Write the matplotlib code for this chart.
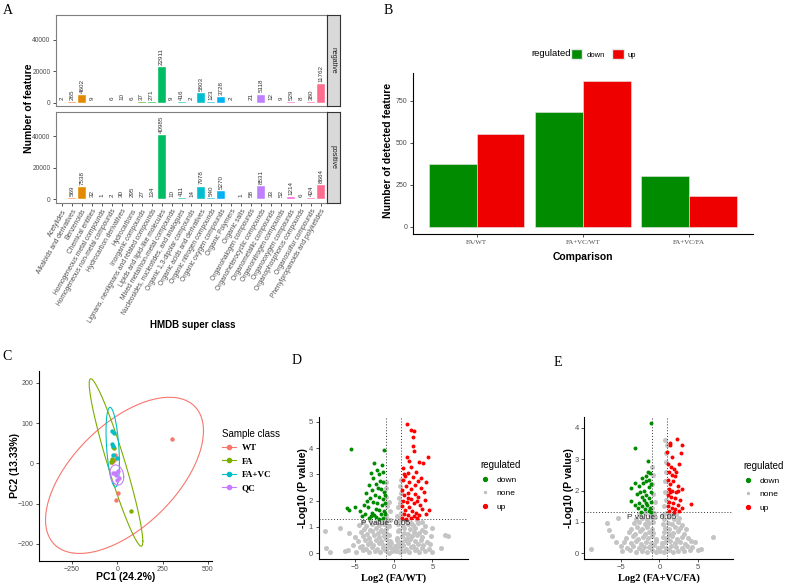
import numpy as np
import matplotlib
matplotlib.use("Agg")
import matplotlib.pyplot as plt
from matplotlib.lines import Line2D
from matplotlib.patches import Patch

SANS = "Liberation Sans"
SERIF = "Liberation Serif"
plt.rcParams["font.family"] = SANS

# ---------------- data ----------------
# A: HMDB super class counts
hmdb_classes = [
    "Acetylides", "Alkaloids and derivatives", "Benzenoids", "Chemical entities",
    "Homogeneous metal compounds", "Homogeneous non-metal compounds",
    "Hydrocarbon derivatives", "Hydrocarbons", "Inorganic compounds",
    "Lignans, neolignans and related compounds", "Lipids and lipid-like molecules",
    "Mixed metal/non-metal compounds", "Nucleosides, nucleotides, and analogues",
    "Organic 1,3-dipolar compounds", "Organic acids and derivatives",
    "Organic nitrogen compounds", "Organic oxygen compounds", "Organic Polymers",
    "Organic salts", "Organohalogen compounds", "Organoheterocyclic compounds",
    "Organometallic compounds", "Organonitrogen compounds", "Organooxygen compounds",
    "Organophosphorus compounds", "Organosulfur compounds",
    "Phenylpropanoids and polyketides",
]
nan = np.nan
negative_counts = [2, 265, 4602, 9, nan, 6, 10, 6, 37, 271, 22911, 9, 416, 2, 5803,
                   123, 3728, 2, nan, 21, 5118, 12, 9, 529, 8, 380, 11762]
positive_counts = [nan, 569, 7538, 32, 1, 2, 30, 295, 27, 134, 40985, 10, 411, 14, 7978,
                   540, 5270, nan, 1, 58, 8531, 33, 52, 1214, 6, 424, 8664]

# B: detected features per comparison
comparisons = ["FA/WT", "FA+VC/WT", "FA+VC/FA"]
down_counts = [372, 683, 303]
up_counts = [552, 867, 186]

# C: PCA scores
pca_groups = ["WT", "FA", "FA+VC", "QC"]
pca_x = {
    "WT": [300, 2, -7, -10, -28, -20],
    "FA": [75, -17, -31, -28, -22, -33],
    "FA+VC": [-31, -17, -28, -26, -22, -4],
    "QC": [-22, -7, 6, -4, 9, -13],
}
pca_y = {
    "WT": [61, -73, -90, 20, 2, 8],
    "FA": [-118, 37, 10, 6, 41, 4],
    "FA+VC": [79, 76, 47, 43, 21, 14],
    "QC": [-25, -29, -18, -41, -37, -23],
}
# 95% ellipses: centre, half x-extent, half y-extent, correlation
ell_cx = {"WT": 40, "FA": -7, "FA+VC": -25, "QC": -2}
ell_cy = {"WT": -30, "FA": 2, "FA+VC": 40, "QC": -29}
ell_hx = {"WT": 436, "FA": 148, "FA+VC": 37, "QC": 38}
ell_hy = {"WT": 194, "FA": 208, "FA+VC": 99, "QC": 25}
ell_r = {"WT": 0.57, "FA": -0.94, "FA+VC": -0.4, "QC": -0.2}

# D: volcano FA/WT
d_down = [(-5.5, 3.96), (-1.24, 3.92), (-2.48, 3.42), (-1.54, 3.35), (-2.18, 3.16), (-2.9, 3.05),
          (-1.9, 3.0), (-1.3, 3.1), (-2.6, 2.85), (-1.7, 2.75), (-3.1, 2.6), (-2.2, 2.65),
          (-1.4, 2.7), (-2.0, 2.5), (-2.8, 2.4), (-1.6, 2.45), (-3.5, 2.3), (-1.2, 2.35),
          (-2.4, 2.2), (-1.8, 2.15), (-3.0, 2.1), (-1.3, 2.05), (-2.6, 1.95), (-2.1, 1.9),
          (-3.8, 1.85), (-1.5, 1.85), (-3.3, 1.75), (-2.3, 1.7), (-1.9, 1.65), (-1.2, 1.6),
          (-4.96, 1.77), (-5.94, 1.71), (-5.68, 1.65), (-4.3, 1.6), (-2.7, 1.55), (-3.6, 1.5),
          (-1.6, 1.5), (-2.9, 1.42), (-2.2, 1.38), (-1.4, 1.35), (-3.2, 1.35), (-1.8, 1.32),
          (-2.5, 1.45), (-1.1, 1.5), (-1.1, 1.9), (-1.1, 2.2), (-4.0, 1.4), (-3.4, 2.0)]
d_up = [(1.67, 4.94), (2.31, 4.68), (2.65, 4.66), (2.44, 4.43), (2.52, 4.08), (1.67, 3.67),
        (4.44, 3.67), (3.29, 3.48), (3.8, 3.42), (4.23, 2.72), (3.59, 2.85), (4.53, 1.65),
        (4.0, 2.03), (1.88, 3.04), (1.24, 3.23), (2.2, 3.3), (2.9, 3.1), (1.5, 2.95),
        (2.5, 2.9), (3.2, 2.75), (1.2, 2.8), (2.0, 2.7), (2.8, 2.6), (1.6, 2.55), (3.5, 2.5),
        (2.3, 2.45), (1.1, 2.4), (3.9, 2.35), (1.9, 2.3), (2.7, 2.25), (1.4, 2.2), (3.1, 2.15),
        (2.2, 2.05), (1.2, 2.0), (1.7, 1.95), (2.6, 1.9), (3.4, 1.85), (1.1, 1.8), (2.0, 1.75),
        (3.7, 1.7), (1.5, 1.65), (2.4, 1.6), (2.9, 1.55), (1.3, 1.5), (1.9, 1.45), (3.3, 1.45),
        (2.6, 1.4), (1.1, 1.35), (1.6, 1.32), (2.2, 1.33), (3.0, 1.35), (4.2, 1.5), (1.3, 3.0),
        (2.0, 3.5), (2.6, 3.9), (3.0, 2.0), (1.8, 2.1)]
d_none = [(-6.2, 0.08), (-4.8, 0.04), (-3.9, 0.11), (-3.1, 0.03), (-2.4, 0.09), (-1.7, 0.05),
          (-1.1, 0.12), (-0.6, 0.02), (-0.2, 0.07), (0.3, 0.1), (0.8, 0.03), (1.4, 0.08),
          (2.0, 0.05), (2.7, 0.11), (3.3, 0.04), (4.1, 0.09), (5.0, 0.06),
          (-8.6, 0.19), (-8.1, 0.06), (-5.8, 0.13), (-4.3, 0.22), (-3.5, 0.17), (-2.8, 0.24),
          (-2.1, 0.16), (-1.4, 0.21), (-0.9, 0.18), (-0.4, 0.23), (0.1, 0.15), (0.5, 0.2),
          (1.0, 0.24), (1.6, 0.17), (2.3, 0.22), (2.9, 0.15), (3.6, 0.21), (4.5, 0.18), (6.15, 0.19),
          (-5.2, 0.33), (-4.0, 0.29), (-3.3, 0.37), (-2.6, 0.31), (-1.9, 0.38), (-1.3, 0.3),
          (-0.7, 0.35), (-0.3, 0.39), (0.2, 0.28), (0.6, 0.36), (1.2, 0.32), (1.8, 0.39),
          (2.5, 0.29), (3.1, 0.35), (3.8, 0.31), (4.7, 0.37),
          (-4.6, 0.47), (-3.7, 0.52), (-3.0, 0.44), (-2.3, 0.5), (-1.6, 0.46), (-1.0, 0.53),
          (-0.5, 0.45), (0.4, 0.51), (0.9, 0.43), (1.5, 0.49), (2.1, 0.54), (2.8, 0.46),
          (3.5, 0.52), (4.3, 0.44),
          (-5.0, 0.62), (-3.9, 0.66), (-3.2, 0.59), (-2.5, 0.68), (-1.8, 0.61), (-1.2, 0.65),
          (-0.6, 0.7), (0.5, 0.6), (1.1, 0.67), (1.7, 0.58), (2.4, 0.64), (3.0, 0.69),
          (3.7, 0.61), (4.8, 0.66),
          (-5.7, 0.76), (-4.2, 0.8), (-3.4, 0.74), (-2.7, 0.83), (-2.0, 0.77), (-1.4, 0.81),
          (-0.8, 0.75), (0.6, 0.84), (1.3, 0.78), (1.9, 0.73), (2.6, 0.82), (3.3, 0.76),
          (4.0, 0.8), (6.6, 0.7), (7.0, 0.66),
          (-8.8, 0.86), (-6.9, 0.97), (-3.8, 0.92), (-3.0, 0.88), (-2.3, 0.96), (-1.6, 0.9),
          (-0.9, 0.94), (0.7, 0.89), (1.4, 0.98), (2.1, 0.91), (2.8, 0.95), (3.6, 0.87), (4.9, 0.97),
          (-4.4, 1.08), (-3.5, 1.03), (-2.7, 1.12), (-1.9, 1.06), (-1.2, 1.1), (-0.6, 1.04),
          (0.6, 1.13), (1.2, 1.05), (1.8, 1.11), (2.5, 1.07), (3.2, 1.14), (4.0, 1.02),
          (-3.9, 1.2), (-3.0, 1.26), (-2.2, 1.18), (-1.5, 1.24), (-0.9, 1.21), (-0.4, 1.27),
          (0.4, 1.19), (0.9, 1.25), (1.6, 1.22), (2.3, 1.17), (3.0, 1.28), (3.7, 1.2),
          (-0.9, 1.45), (-0.5, 1.6), (0.5, 1.4), (0.9, 1.55), (-0.8, 1.8), (-0.6, 1.95),
          (0.6, 1.75), (0.8, 1.9), (-0.9, 2.15), (0.7, 2.1), (0.9, 2.3), (-0.9, 2.5),
          (0.8, 2.55), (0.9, 2.8), (-0.95, 2.7), (0.85, 1.35), (-0.85, 1.3)]

# E: volcano FA+VC/FA
e_down = [(-1.13, 4.14), (-3.17, 3.34), (-1.43, 2.94), (-3.17, 2.25), (-3.7, 2.07), (-3.7, 1.68),
          (-1.2, 2.55), (-1.5, 2.6), (-2.2, 2.4), (-1.8, 2.3), (-1.1, 2.2), (-2.6, 2.15),
          (-1.4, 2.1), (-2.0, 2.0), (-1.1, 1.95), (-2.9, 1.9), (-1.7, 1.85), (-2.3, 1.8),
          (-1.3, 1.75), (-2.0, 1.7), (-1.1, 1.65), (-2.6, 1.6), (-1.6, 1.55), (-2.2, 1.5),
          (-1.2, 1.45), (-1.9, 1.4), (-2.8, 1.45), (-1.4, 1.35), (-2.4, 1.33), (-1.1, 1.32),
          (-1.7, 2.45), (-1.3, 2.35), (-2.5, 1.95), (-1.8, 1.6), (-3.2, 1.55), (-2.1, 2.25)]
e_up = [(2.35, 3.63), (1.39, 3.52), (1.39, 3.45), (2.91, 3.45), (1.0, 3.23), (2.83, 3.21),
        (1.6, 3.08), (1.17, 2.84), (2.52, 2.84), (1.96, 2.7), (2.91, 2.05), (4.13, 1.56),
        (1.3, 2.6), (1.6, 2.5), (2.1, 2.45), (1.1, 2.35), (1.8, 2.3), (1.4, 2.2), (2.4, 2.15),
        (1.2, 2.05), (1.7, 2.0), (2.2, 1.95), (1.1, 1.85), (1.5, 1.8), (2.0, 1.75), (2.7, 1.7),
        (1.3, 1.65), (1.8, 1.6), (2.4, 1.55), (1.1, 1.5), (1.6, 1.45), (2.1, 1.4), (2.9, 1.45),
        (1.3, 1.35), (1.9, 1.32), (2.6, 1.35), (1.5, 2.75), (2.2, 2.6), (1.4, 1.95), (2.5, 2.0)]
e_none = [(-8.96, 0.13), (-6.87, 0.95), (-6.6, 0.75), (-6.2, 0.55), (-5.35, 1.11), (-5.6, 0.35),
          (6.96, 0.53), (5.09, 0.11), (5.5, 0.13), (4.6, 0.35),
          (-4.9, 0.06), (-3.8, 0.1), (-3.0, 0.04), (-2.3, 0.09), (-1.6, 0.05), (-1.0, 0.11),
          (-0.5, 0.03), (0.1, 0.08), (0.6, 0.05), (1.2, 0.1), (1.8, 0.04), (2.5, 0.09),
          (3.2, 0.06), (4.0, 0.11),
          (-5.0, 0.22), (-4.2, 0.18), (-3.4, 0.24), (-2.7, 0.17), (-2.0, 0.21), (-1.3, 0.19),
          (-0.7, 0.25), (-0.2, 0.16), (0.4, 0.23), (0.9, 0.18), (1.5, 0.24), (2.2, 0.2),
          (2.9, 0.16), (3.6, 0.22), (4.3, 0.19),
          (-4.6, 0.36), (-3.7, 0.33), (-3.0, 0.39), (-2.4, 0.31), (-1.7, 0.37), (-1.1, 0.34),
          (-0.5, 0.38), (0.3, 0.32), (0.8, 0.36), (1.4, 0.4), (2.0, 0.33), (2.7, 0.37),
          (3.4, 0.31), (4.1, 0.38),
          (-4.3, 0.5), (-3.5, 0.54), (-2.8, 0.47), (-2.1, 0.52), (-1.5, 0.48), (-0.9, 0.55),
          (-0.4, 0.46), (0.5, 0.53), (1.0, 0.49), (1.6, 0.56), (2.3, 0.47), (3.0, 0.52), (3.8, 0.5),
          (-4.0, 0.68), (-3.2, 0.63), (-2.5, 0.7), (-1.9, 0.62), (-1.3, 0.67), (-0.8, 0.64),
          (0.6, 0.69), (1.2, 0.61), (1.8, 0.66), (2.5, 0.7), (3.2, 0.63),
          (-3.7, 0.78), (-2.9, 0.83), (-2.2, 0.77), (-1.6, 0.84), (-1.0, 0.79), (0.7, 0.82),
          (1.3, 0.76), (2.0, 0.85), (2.7, 0.8), (3.5, 0.77),
          (-3.3, 0.95), (-2.6, 0.99), (-1.9, 0.92), (-1.3, 0.97), (-0.8, 1.0), (0.5, 0.93),
          (1.1, 0.98), (1.7, 0.94), (2.4, 1.0), (3.0, 0.91),
          (-3.0, 1.1), (-2.3, 1.14), (-1.6, 1.07), (-1.0, 1.12), (-0.6, 1.16), (0.6, 1.09),
          (1.2, 1.15), (1.9, 1.08), (2.6, 1.13),
          (-2.7, 1.24), (-1.9, 1.28), (-1.2, 1.21), (-0.7, 1.27), (0.5, 1.22), (0.9, 1.29),
          (1.5, 1.23), (2.2, 1.26),
          (-0.9, 1.45), (-0.6, 1.65), (0.6, 1.5), (0.9, 1.7), (-0.8, 1.9), (0.7, 1.95),
          (-0.9, 2.2), (0.8, 2.3), (-0.85, 2.5), (0.9, 2.6), (-0.9, 2.75), (0.85, 2.9),
          (0.9, 3.2), (0.8, 3.6), (0.95, 3.45)]

# ---------------- helpers ----------------
W, H = 786, 584
fig = plt.figure(figsize=(W / 100, H / 100), dpi=100)


def box(l, t, r, b):
    return fig.add_axes([l / W, 1 - b / H, (r - l) / W, (b - t) / H])


def ftext(x, y, s, **kw):
    return fig.text(x / W, 1 - y / H, s, **kw)


def hue_colors(n, l=65, c=100):
    # ggplot2 default hue palette (HCL -> sRGB)
    Xn, Yn, Zn = 95.047, 100.0, 108.883
    un = 4 * Xn / (Xn + 15 * Yn + 3 * Zn)
    vn = 9 * Yn / (Xn + 15 * Yn + 3 * Zn)
    M = np.array([[3.2406, -1.5372, -0.4986], [-0.9689, 1.8758, 0.0415], [0.0557, -0.2040, 1.0570]])
    out = []
    for i in range(n):
        h = np.deg2rad(15 + 360 * i / n)
        u, v = c * np.cos(h), c * np.sin(h)
        Y = Yn * ((l + 16) / 116) ** 3
        up = u / (13 * l) + un
        vp = v / (13 * l) + vn
        X = Y * 9 * up / (4 * vp)
        Z = Y * (12 - 3 * up - 20 * vp) / (4 * vp)
        lin = M @ np.array([X, Y, Z]) / 100
        rgb = np.where(lin > 0.0031308, 1.055 * np.abs(lin) ** (1 / 2.4) - 0.055, 12.92 * lin)
        out.append(tuple(np.clip(rgb, 0, 1)))
    return out


TICK_C = "#4D4D4D"


def style_ticks(ax, size=5):
    ax.tick_params(length=2.5, width=0.6, color="#333333", labelsize=size, labelcolor=TICK_C, pad=1.5)


def classic(ax):
    for s in ["top", "right"]:
        ax.spines[s].set_visible(False)
    for s in ["left", "bottom"]:
        ax.spines[s].set_linewidth(0.8)
        ax.spines[s].set_color("black")


# ---------------- panel A ----------------
colsA = hue_colors(len(hmdb_classes))
xA = np.arange(len(hmdb_classes))
facets = [("negative", negative_counts, (15, 106)), ("positive", positive_counts, (111.5, 202.5))]
for k, (name, vals, (t, b)) in enumerate(facets):
    ax = box(56, t, 327, b)
    vals = np.array(vals, dtype=float)
    ok = ~np.isnan(vals)
    ax.bar(xA[ok], vals[ok], width=0.8, color=[colsA[i] for i in xA[ok]], edgecolor="white", linewidth=0.3)
    for i in xA[ok]:
        ax.annotate(str(int(vals[i])), (i, vals[i]), xytext=(0, 1.5), textcoords="offset points",
                    rotation=90, ha="center", va="bottom", fontsize=4.5, color="#333333")
    ax.set_xlim(-0.6, 26.6)
    ax.set_ylim(-2200, 55800)
    ax.set_yticks([0, 20000, 40000])
    style_ticks(ax, 4.8)
    for s in ax.spines.values():
        s.set_color("#7F7F7F")
        s.set_linewidth(0.8)
    ax.set_xticks(xA)
    if k == 0:
        ax.set_xticklabels([])
        ax.tick_params(axis="x", length=0)
    else:
        ax.set_xticklabels(hmdb_classes, rotation=60, ha="right", rotation_mode="anchor", fontsize=4.8)
    st = box(327, t, 340, b)
    st.set_facecolor("#D9D9D9")
    st.set_xticks([])
    st.set_yticks([])
    for s in st.spines.values():
        s.set_color("#333333")
        s.set_linewidth(0.8)
    st.text(0.5, 0.5, name, rotation=-90, ha="center", va="center", fontsize=5, color="#1A1A1A",
            transform=st.transAxes)

ftext(29, 108, "Number of feature", rotation=90, ha="center", va="center", fontsize=7.5, fontweight="bold")
ftext(193, 325, "HMDB super class", ha="center", va="center", fontsize=7, fontweight="bold")

# ---------------- panel B ----------------
GREEN, RED = "#008B00", "#EE0000"
axB = box(412.7, 73, 753, 234)
xB = np.arange(1, len(comparisons) + 1)
axB.bar(xB - 0.225, down_counts, width=0.45, color=GREEN, edgecolor="#E8E8E8", linewidth=0.4)
axB.bar(xB + 0.225, up_counts, width=0.45, color=RED, edgecolor="#E8E8E8", linewidth=0.4)
axB.set_xlim(0.4, 3.6)
axB.set_ylim(-42, 914)
axB.set_yticks([0, 250, 500, 750])
axB.set_xticks(xB)
axB.set_xticklabels(comparisons, fontfamily=SERIF)
classic(axB)
style_ticks(axB, 5)
ftext(388, 150, "Number of detected feature", rotation=90, ha="center", va="center", fontsize=7.5,
      fontweight="bold")
ftext(583, 257, "Comparison", ha="center", va="center", fontsize=7.5, fontweight="bold")
ftext(531, 54, "regulated", ha="left", va="center", fontsize=6.8)
fig.legend([Patch(facecolor=GREEN, edgecolor="#E8E8E8"), Patch(facecolor=RED, edgecolor="#E8E8E8")],
           ["down", "up"], loc="center left", bbox_to_anchor=(571 / W, 1 - 54 / H), ncol=2,
           frameon=False, fontsize=5.5, handlelength=1.5, handleheight=1.5, columnspacing=1.0,
           handletextpad=0.5, borderaxespad=0, borderpad=0)

# ---------------- panel C ----------------
pca_cols = {"WT": "#F8766D", "FA": "#7CAE00", "FA+VC": "#00BFC4", "QC": "#C77CFF"}
axC = box(39, 370.7, 212, 560.7)
tt = np.linspace(0, 2 * np.pi, 200)
for g in pca_groups:
    r = ell_r[g]
    ex = ell_cx[g] + ell_hx[g] * np.cos(tt)
    ey = ell_cy[g] + ell_hy[g] * (r * np.cos(tt) + np.sqrt(1 - r ** 2) * np.sin(tt))
    axC.plot(ex, ey, color=pca_cols[g], lw=0.8)
for g in pca_groups:
    axC.scatter(pca_x[g], pca_y[g], s=10, color=pca_cols[g], zorder=3, linewidths=0)
axC.set_xlim(-432, 523)
axC.set_ylim(-242, 230)
axC.set_xticks([-250, 0, 250, 500])
axC.set_yticks([-200, -100, 0, 100, 200])
classic(axC)
style_ticks(axC, 5)
ftext(126, 577, "PC1 (24.2%)", ha="center", va="center", fontsize=7.5, fontweight="bold")
ftext(15, 465, "PC2 (13.33%)", rotation=90, ha="center", va="center", fontsize=7.5, fontweight="bold")
fig.legend([Line2D([], [], color=pca_cols[g], marker="o", ms=3, lw=0.8) for g in pca_groups],
           pca_groups, title="Sample class", loc="upper left", bbox_to_anchor=(222 / W, 1 - 429 / H),
           frameon=False, title_fontsize=7, handlelength=1.6, handletextpad=0.6,
           labelspacing=0.55, alignment="left", borderaxespad=0, borderpad=0,
           prop={"family": SERIF, "weight": "bold", "size": 6.5})

# ---------------- panels D, E ----------------
volcanos = [
    (d_down, d_up, d_none, (318.7, 416.7, 468.3, 559.3), (-9.6, 9.6), (-0.23, 5.2), range(6),
     "Log2 (FA/WT)", (393.7, 578), 303.5, (480, 460)),
    (e_down, e_up, e_none, (584.3, 416.7, 733.3, 559.3), (-9.8, 9.66), (-0.19, 4.35), range(5),
     "Log2 (FA+VC/FA)", (659, 578), 569.5, (743, 461)),
]
for down, up, none, bx, xl, yl, yt, xlab, xlpos, ylx, legpos in volcanos:
    ax = box(*bx)
    nx, ny = zip(*none)
    ax.scatter(nx, ny, s=13, color="#C4C4C4", linewidths=0)
    dx, dy = zip(*down)
    ax.scatter(dx, dy, s=8, color=GREEN, linewidths=0, zorder=3)
    ux, uy = zip(*up)
    ax.scatter(ux, uy, s=8, color="#FF0000", linewidths=0, zorder=3)
    thr = -np.log10(0.05)
    for v in (-1, 1):
        ax.axvline(v, ls=(0, (1, 2)), color="#333333", lw=0.7)
    ax.axhline(thr, ls=(0, (1, 2)), color="#333333", lw=0.7)
    ax.text(-1, thr - 0.04, "P value: 0.05", ha="center", va="top", fontsize=6, color="#333333")
    ax.set_xlim(*xl)
    ax.set_ylim(*yl)
    ax.set_xticks([-5, 0, 5])
    ax.set_yticks(list(yt))
    classic(ax)
    style_ticks(ax, 5.5)
    ax.tick_params(axis="x", pad=1)
    ftext(xlpos[0], xlpos[1], xlab, ha="center", va="center", fontsize=7.5, fontweight="bold",
          fontfamily=SERIF)
    ftext(ylx, 488, "-Log10 (P value)", rotation=90, ha="center", va="center", fontsize=7.5,
          fontweight="bold")
    fig.legend([Line2D([], [], ls="", marker="o", ms=2.8, color=GREEN),
                Line2D([], [], ls="", marker="o", ms=1.4, color="#BEBEBE"),
                Line2D([], [], ls="", marker="o", ms=2.8, color="#FF0000")],
               ["down", "none", "up"], title="regulated", loc="upper left",
               bbox_to_anchor=(legpos[0] / W, 1 - legpos[1] / H), frameon=False, fontsize=6,
               title_fontsize=7, handlelength=1.2, handletextpad=0.8, labelspacing=0.7,
               alignment="left", borderaxespad=0, borderpad=0)

# panel letters
for lab, (x, y) in zip("ABCDE", [(8, 11), (388, 11), (7, 357), (297, 361), (558, 362)]):
    ftext(x, y, lab, ha="center", va="center", fontsize=10, fontfamily=SERIF)

fig.savefig("out.png", dpi=100)
